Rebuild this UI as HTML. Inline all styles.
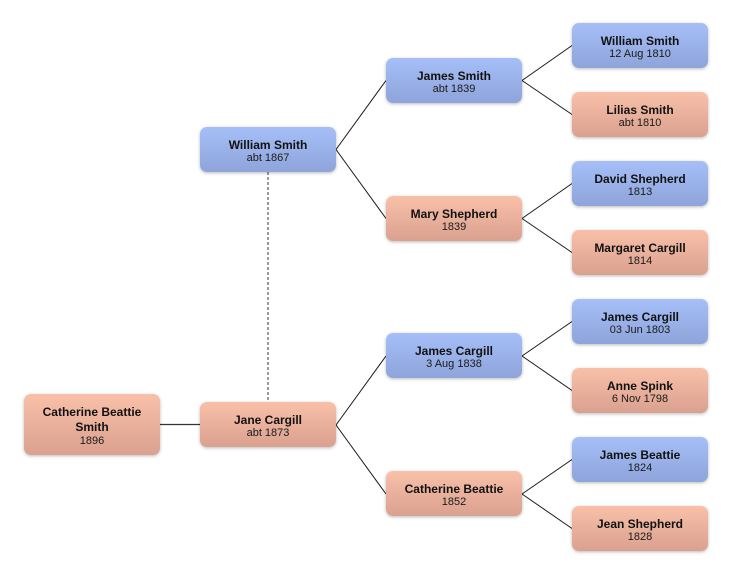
<!DOCTYPE html>
<html>
<head>
<meta charset="utf-8">
<style>
html,body{margin:0;padding:0;background:#fff;}
body{width:732px;height:574px;position:relative;overflow:hidden;font-family:"Liberation Sans",Arial,sans-serif;}
.b{position:absolute;width:136px;height:45px;border-radius:7px;box-shadow:0 1px 3px rgba(0,0,0,0.28);text-align:center;box-sizing:border-box;padding-top:11px;color:#111;}
.m{background:linear-gradient(#a6bff8,#8ea4da);}
.f{background:linear-gradient(#f9c0a9,#d9a18f);}
.n{font-weight:bold;font-size:12px;line-height:14px;}
.d{font-size:11px;line-height:13px;color:#1a1a1a;}
svg{position:absolute;left:0;top:0;}
</style>
</head>
<body>
<svg width="732" height="574" viewBox="0 0 732 574">
<g stroke="#1a1a1a" stroke-width="1" fill="none">
<line x1="336" y1="149.5" x2="386" y2="80.5"/>
<line x1="336" y1="149.5" x2="386" y2="218.5"/>
<line x1="522" y1="80.5" x2="572" y2="45.5"/>
<line x1="522" y1="80.5" x2="572" y2="114.5"/>
<line x1="522" y1="218.5" x2="572" y2="183.5"/>
<line x1="522" y1="218.5" x2="572" y2="252.5"/>
<line x1="336" y1="425" x2="386" y2="356"/>
<line x1="336" y1="425" x2="386" y2="494"/>
<line x1="522" y1="356" x2="572" y2="321.5"/>
<line x1="522" y1="356" x2="572" y2="390.5"/>
<line x1="522" y1="494" x2="572" y2="459.5"/>
<line x1="522" y1="494" x2="572" y2="528.5"/>
<line x1="160" y1="424.5" x2="200" y2="424.5" stroke="#333" stroke-width="1.3"/>
</g>
<line x1="268" y1="172" x2="268" y2="402" stroke="#7a7a7a" stroke-width="1.5" stroke-dasharray="3 2"/>
</svg>

<div class="b m" style="left:200px;top:127px;"><div class="n">William Smith</div><div class="d">abt 1867</div></div>
<div class="b f" style="left:200px;top:402px;"><div class="n">Jane Cargill</div><div class="d">abt 1873</div></div>
<div class="b f" style="left:24px;top:394px;height:61px;padding-top:10.5px;"><div class="n" style="line-height:15px;">Catherine Beattie<br>Smith</div><div class="d">1896</div></div>

<div class="b m" style="left:386px;top:58px;"><div class="n">James Smith</div><div class="d">abt 1839</div></div>
<div class="b f" style="left:386px;top:196px;"><div class="n">Mary Shepherd</div><div class="d">1839</div></div>
<div class="b m" style="left:386px;top:333px;"><div class="n">James Cargill</div><div class="d">3 Aug 1838</div></div>
<div class="b f" style="left:386px;top:471px;"><div class="n">Catherine Beattie</div><div class="d">1852</div></div>

<div class="b m" style="left:572px;top:23px;"><div class="n">William Smith</div><div class="d">12 Aug 1810</div></div>
<div class="b f" style="left:572px;top:92px;"><div class="n">Lilias Smith</div><div class="d">abt 1810</div></div>
<div class="b m" style="left:572px;top:161px;"><div class="n">David Shepherd</div><div class="d">1813</div></div>
<div class="b f" style="left:572px;top:230px;"><div class="n">Margaret Cargill</div><div class="d">1814</div></div>
<div class="b m" style="left:572px;top:299px;"><div class="n">James Cargill</div><div class="d">03 Jun 1803</div></div>
<div class="b f" style="left:572px;top:368px;"><div class="n">Anne Spink</div><div class="d">6 Nov 1798</div></div>
<div class="b m" style="left:572px;top:437px;"><div class="n">James Beattie</div><div class="d">1824</div></div>
<div class="b f" style="left:572px;top:506px;"><div class="n">Jean Shepherd</div><div class="d">1828</div></div>
</body>
</html>
